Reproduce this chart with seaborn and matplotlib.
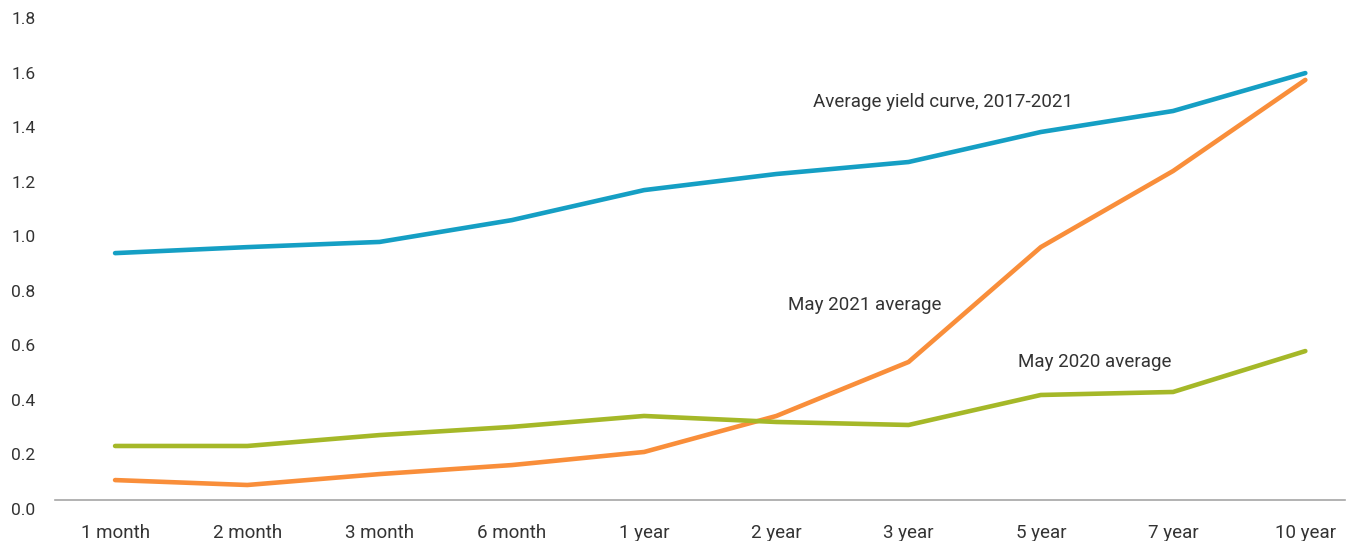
import matplotlib
matplotlib.use("Agg")
import matplotlib.pyplot as plt
import matplotlib.transforms as mtransforms
import seaborn as sns
import pandas as pd

maturities = ["1 month", "2 month", "3 month", "6 month", "1 year",
              "2 year", "3 year", "5 year", "7 year", "10 year"]
avg_2017_2021 = [0.905, 0.927, 0.946, 1.026, 1.136, 1.195, 1.239, 1.349, 1.426, 1.565]
may_2021 = [0.073, 0.055, 0.095, 0.128, 0.176, 0.308, 0.506, 0.927, 1.206, 1.54]
may_2020 = [0.198, 0.198, 0.238, 0.268, 0.308, 0.286, 0.275, 0.385, 0.396, 0.546]
series_names = ["Average yield curve, 2017-2021", "May 2021 average", "May 2020 average"]
y_ticks = [0.0, 0.2, 0.4, 0.6, 0.8, 1.0, 1.2, 1.4, 1.6, 1.8]

colors = {series_names[0]: "#159FC4", series_names[1]: "#F98E3A", series_names[2]: "#A5B828"}

rows = []
for name, vals in zip(series_names, [avg_2017_2021, may_2021, may_2020]):
    for m, v in zip(maturities, vals):
        rows.append({"maturity": m, "yield": v, "series": name})
df = pd.DataFrame(rows)

sns.set_theme(style="white")
plt.rcParams["font.family"] = ["Roboto", "DejaVu Sans"]

fig = plt.figure(figsize=(13.59, 5.41), dpi=100)
ax = fig.add_axes([0.0405, 0.0758, 0.9492, 0.9076])

sns.lineplot(data=df, x="maturity", y="yield", hue="series", palette=colors,
             hue_order=series_names, sort=False, linewidth=3.3, legend=False, ax=ax,
             solid_capstyle="round")

ax.set_xlim(-0.454, 9.30)
ax.set_ylim(0, 1.8)
ax.set_yticks(y_ticks)
ax.set_yticklabels([f"{t:.1f}" for t in y_ticks])
ax.set_xlabel("")
ax.set_ylabel("")

for s in ["left", "right", "top"]:
    ax.spines[s].set_visible(False)
ax.spines["bottom"].set_color("#A6A6A6")
ax.spines["bottom"].set_linewidth(1.2)

ax.tick_params(axis="y", length=0, pad=14, labelsize=12.5, labelcolor="#333333")
ax.tick_params(axis="x", length=0, pad=17, labelsize=13.5, labelcolor="#333333")

# y labels sit slightly below their gridline values in the reference
offset = mtransforms.ScaledTranslation(0, -9 / 100, fig.dpi_scale_trans)
for lab in ax.get_yticklabels():
    lab.set_transform(lab.get_transform() + offset)

ax.text(6.263, 1.458, series_names[0], fontsize=13.5, color="#333333", va="center", ha="center")
ax.text(5.666, 0.716, series_names[1], fontsize=13.5, color="#333333", va="center", ha="center")
ax.text(7.405, 0.505, series_names[2], fontsize=13.5, color="#333333", va="center", ha="center")

fig.savefig("out.png", dpi=100)
